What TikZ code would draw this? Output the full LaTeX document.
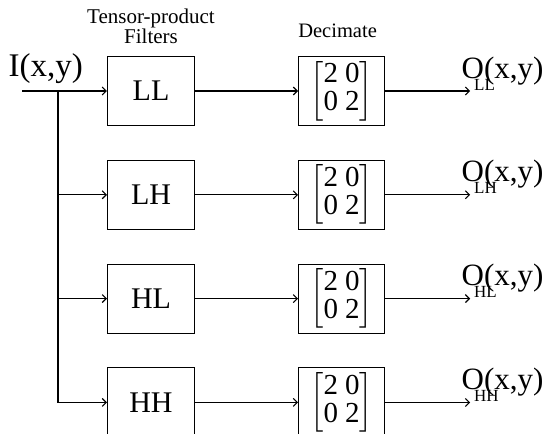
\documentclass[tikz,border=0pt]{standalone}
\usepackage{fontspec}
\setmainfont{Liberation Serif}
\usepackage{amsmath}
\usetikzlibrary{positioning,arrows.meta}
\newcommand{\decmat}{$\left[\begin{tabular}{@{}c@{\hspace{7pt}}c@{}}2&0\\0&2\end{tabular}\right]$}
\newcommand{\outlabel}[1]{O\rlap{\kern-0.32em\raisebox{-12pt}{\fontsize{17}{17}\selectfont #1}}(x,y)}

\begin{document}
\begin{tikzpicture}[x=1pt, y=-1pt, node distance=33.7pt and 103pt, line width=1.1pt,
    >={Straight Barb[length=4pt,width=8pt]},
    filt/.style={draw, minimum width=87pt, minimum height=69pt, font=\fontsize{30}{36}\selectfont},
    dec/.style={draw, minimum width=86pt, minimum height=69pt, inner sep=0pt, font=\fontsize{29}{28}\selectfont},
    outlbl/.style={inner sep=0pt, anchor=base west, font=\fontsize{31}{36}\selectfont}]
  \useasboundingbox (0,0) rectangle (552,434);
  \node[filt] (fLL) at (151,91) {LL};
  \node[filt, below=of fLL] (fLH) {LH};
  \node[filt, below=of fLH] (fHL) {HL};
  \node[filt, below=of fHL] (fHH) {HH};
  \node[dec, right=of fLL] (dLL) {\decmat};
  \node[dec, right=of fLH] (dLH) {\decmat};
  \node[dec, right=of fHL] (dHL) {\decmat};
  \node[dec, right=of fHH] (dHH) {\decmat};
  \node[align=center, font=\fontsize{21}{18}\selectfont, above=8pt of fLL] (ttl) {Tensor-product\\Filters};
  \node[font=\fontsize{20.5}{22}\selectfont, above=14pt of dLL, xshift=-4pt] (dttl) {Decimate};
  \node[inner sep=0pt, anchor=base west, font=\fontsize{33}{40}\selectfont] (inlbl) at (8,76) {I(x,y)};
  \coordinate (in) at (22,91);
  \coordinate (split) at (58,91);
  \coordinate[right=85pt of dLL] (oLL);
  \coordinate[right=85pt of dLH] (oLH);
  \coordinate[right=85pt of dHL] (oHL);
  \coordinate[right=85pt of dHH] (oHH);
  \node[outlbl] (lLL) at ([xshift=-9pt,yshift=13pt]oLL) {\outlabel{LL}};
  \node[outlbl] (lLH) at ([xshift=-9pt,yshift=13pt]oLH) {\outlabel{LH}};
  \node[outlbl] (lHL) at ([xshift=-9pt,yshift=13pt]oHL) {\outlabel{HL}};
  \node[outlbl] (lHH) at ([xshift=-9pt,yshift=13pt]oHH) {\outlabel{HH}};
  \draw[->] (in) -- (fLL);
  \draw[->] (split) |- (fLH);
  \draw[->] (split) |- (fHL);
  \draw[->] (split) |- (fHH);
  \path[->]
    (fLL) edge (dLL)
    (fLH) edge (dLH)
    (fHL) edge (dHL)
    (fHH) edge (dHH)
    (dLL) edge (oLL)
    (dLH) edge (oLH)
    (dHL) edge (oHL)
    (dHH) edge (oHH);
\end{tikzpicture}
\end{document}
